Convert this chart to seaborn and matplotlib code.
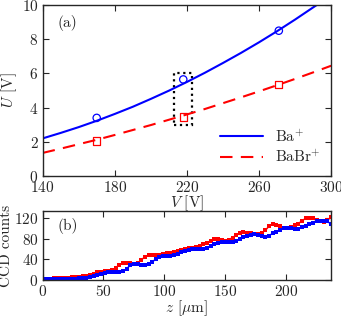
import numpy as np
import pandas as pd
import matplotlib
matplotlib.use("Agg")
import matplotlib.pyplot as plt
import seaborn as sns
from matplotlib.patches import Rectangle

# === panel (a): trap voltages ===
v_meas = [170, 218, 271]
u_ba = [3.4, 5.65, 8.5]
u_babr = [2.05, 3.45, 5.35]

v_fit_ba = [140, 150, 160, 170, 180, 190, 200, 210, 220, 230, 240, 250, 260, 270, 280, 290, 292]
u_fit_ba = [2.2, 2.52, 2.86, 3.23, 3.63, 4.05, 4.51, 4.99, 5.5, 6.04, 6.61, 7.2, 7.82, 8.47, 9.15, 9.86, 10.0]
v_fit_babr = [140, 150, 160, 170, 180, 190, 200, 210, 220, 230, 240, 250, 260, 270, 280, 290, 300]
u_fit_babr = [1.35, 1.6, 1.86, 2.12, 2.4, 2.69, 2.98, 3.29, 3.6, 3.92, 4.26, 4.6, 4.95, 5.31, 5.68, 6.06, 6.45]

# === panel (b): CCD profiles ===
z_um = list(range(0, 238, 3))
ccd_red = [3, 3, 3, 4, 4, 4, 5, 5, 6, 6, 7, 8, 9, 11, 13, 15, 16, 17, 17, 19,
           24, 30, 33, 34, 33, 32, 33, 39, 45, 48, 48, 48, 48, 50, 52, 53, 55, 57, 59, 61,
           62, 62, 64, 66, 69, 72, 76, 79, 79, 77, 76, 78, 82, 87, 91, 92, 91, 90, 89, 89,
           91, 96, 104, 108, 107, 104, 101, 100, 103, 106, 109, 114, 119, 120, 119, 115, 113, 112, 116, 121]
ccd_blue = [2, 2, 2, 2, 2, 2, 3, 3, 3, 3, 4, 4, 5, 6, 8, 10, 12, 14, 15, 16,
            16, 16, 17, 22, 29, 32, 32, 30, 30, 31, 35, 41, 45, 46, 46, 47, 49, 51, 54, 57,
            59, 60, 60, 60, 61, 63, 66, 69, 72, 74, 74, 73, 73, 75, 79, 83, 86, 88, 89, 88,
            86, 83, 86, 90, 93, 96, 100, 101, 100, 98, 99, 102, 105, 108, 111, 113, 114, 114, 113, 108]

sns.set_style("ticks")
plt.rcParams["font.family"] = ["serif"]
plt.rcParams["font.serif"] = ["cmr10", "DejaVu Serif"]
plt.rcParams["mathtext.fontset"] = "cm"
plt.rcParams["axes.formatter.use_mathtext"] = True
plt.rcParams["font.size"] = 11

blue = "#0000ff"
red = "#ff0000"

fig = plt.figure(figsize=(3.41, 3.16), dpi=100)
ax1 = fig.add_axes([0.125, 0.443, 0.846, 0.541])
ax2 = fig.add_axes([0.125, 0.113, 0.846, 0.219])

sns.lineplot(x=v_fit_ba, y=u_fit_ba, ax=ax1, color=blue, lw=1.5, label="Ba$^{+}$")
sns.lineplot(x=v_fit_babr, y=u_fit_babr, ax=ax1, color=red, lw=1.5, label="BaBr$^{+}$")
ax1.lines[1].set_dashes([6, 4])
sns.scatterplot(x=v_meas, y=u_ba, ax=ax1, marker="o", s=28, facecolor="none",
                edgecolor=blue, linewidth=0.9, zorder=3)
sns.scatterplot(x=v_meas, y=u_babr, ax=ax1, marker="s", s=26, facecolor="none",
                edgecolor=red, linewidth=0.9, zorder=3)
ax1.add_patch(Rectangle((213, 3.0), 10, 3.0, fill=False, ls=":", lw=1.6, ec="black"))

ax1.set_xlim(140, 300)
ax1.set_ylim(0, 10)
ax1.set_xticks([140, 180, 220, 260, 300])
ax1.set_yticks([0, 2, 4, 6, 8, 10])
ax1.set_xlabel("$V$ [V]", labelpad=-1)
ax1.set_ylabel("$U$ [V]", labelpad=2)
ax1.text(0.05, 0.94, "(a)", transform=ax1.transAxes, va="top")
ax1.legend(loc="lower right", frameon=False, handlelength=2.8, borderaxespad=0.3,
           labelspacing=0.3)

sns.lineplot(x=z_um, y=ccd_red, ax=ax2, color=red, lw=1.1, marker="s", markersize=3.2,
             markeredgewidth=0)
sns.lineplot(x=z_um, y=ccd_blue, ax=ax2, color=blue, lw=1.1, marker="s", markersize=3.2,
             markeredgewidth=0)
ax2.set_xlim(0, 237)
ax2.set_ylim(0, 133)
ax2.set_xticks([0, 50, 100, 150, 200])
ax2.set_yticks([0, 40, 80, 120])
ax2.set_xlabel(r"$z$ [$\mu$m]", labelpad=-1)
ax2.set_ylabel("CCD counts", labelpad=1)
ax2.text(0.05, 0.9, "(b)", transform=ax2.transAxes, va="top")

for ax in (ax1, ax2):
    ax.tick_params(direction="in", top=True, right=True, length=4, width=0.8, pad=3)
    for sp in ax.spines.values():
        sp.set_linewidth(1.0)

fig.savefig("out.png", dpi=100)
